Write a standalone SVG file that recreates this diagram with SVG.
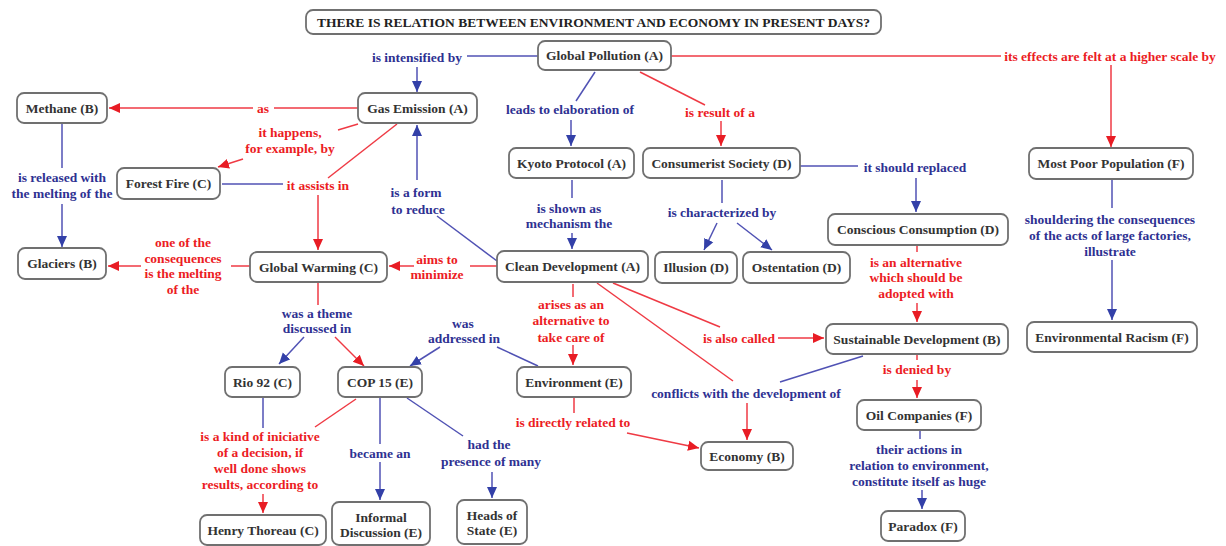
<svg xmlns="http://www.w3.org/2000/svg" width="1226" height="546" viewBox="0 0 1226 546">
<style>
text{font-family:"Liberation Serif","Times New Roman",serif;font-weight:bold;font-size:13.5px;text-anchor:middle}
.box{fill:#fff;stroke:#707070;stroke-width:1.8}
.nt{fill:#333}
.rt{fill:#ec1c24}
.bt{fill:#2e3192}
.rl{stroke:#ef3a44;stroke-width:1.5;fill:none}
.bl{stroke:#5052b4;stroke-width:1.5;fill:none}
.ra{marker-end:url(#ar)}
.ba{marker-end:url(#ab)}
</style>
<defs>
<marker id="ar" markerUnits="userSpaceOnUse" markerWidth="12" markerHeight="12" viewBox="0 0 12 12" refX="11" refY="6" orient="auto"><path d="M0,1 L11,6 L0,11 Z" fill="#e81c24"/></marker>
<marker id="ab" markerUnits="userSpaceOnUse" markerWidth="12" markerHeight="12" viewBox="0 0 12 12" refX="11" refY="6" orient="auto"><path d="M0,1 L11,6 L0,11 Z" fill="#3340a8"/></marker>
</defs>
<rect width="1226" height="546" fill="#fff"/>

<g id="connectors">
<!-- GP -> GE -->
<line class="bl" x1="538" y1="56" x2="467" y2="56"/>
<text class="bt" x="417" y="61.5">is intensified by</text>
<line class="bl ba" x1="417" y1="67" x2="417" y2="92"/>
<!-- GE -> Methane -->
<line class="rl" x1="358" y1="108" x2="274" y2="108"/>
<text class="rt" x="263" y="112.5">as</text>
<line class="rl ra" x1="253" y1="108" x2="109" y2="108"/>
<!-- GE -> Forest Fire -->
<line class="rl" x1="358" y1="124" x2="338" y2="130"/>
<text class="rt" x="290" y="136.5">it happens,</text>
<text class="rt" x="290" y="152.5">for example, by</text>
<line class="rl ra" x1="243" y1="159" x2="218" y2="167"/>
<!-- GE / Forest fire -> GW -->
<line class="rl" x1="397" y1="124" x2="328" y2="178"/>
<line class="bl" x1="222" y1="184" x2="283" y2="184"/>
<text class="rt" x="318" y="189.5">it assists in</text>
<line class="rl ra" x1="318" y1="195" x2="318" y2="250"/>
<!-- Methane -> Glaciers -->
<line class="bl" x1="62" y1="124" x2="62" y2="168"/>
<text class="bt" x="62" y="181.5">is released with</text>
<text class="bt" x="62" y="197.5">the melting of the</text>
<line class="bl ba" x1="62" y1="204" x2="62" y2="247"/>
<!-- GW -> Glaciers -->
<line class="rl" x1="250" y1="266" x2="231" y2="266"/>
<text class="rt" x="183" y="246.5">one of the</text>
<text class="rt" x="183" y="262.5">consequences</text>
<text class="rt" x="183" y="277.5">is the melting</text>
<text class="rt" x="183" y="293.5">of the</text>
<line class="rl ra" x1="141" y1="266" x2="108" y2="266"/>
<!-- CD -> GW -->
<line class="rl" x1="497" y1="266" x2="470" y2="266"/>
<text class="rt" x="437" y="263.5">aims to</text>
<text class="rt" x="437" y="278.5">minimize</text>
<line class="rl ra" x1="414" y1="266" x2="389" y2="266"/>
<!-- CD -> GE -->
<line class="bl" x1="497" y1="261" x2="437" y2="216"/>
<text class="bt" x="416" y="196.5">is a form</text>
<text class="bt" x="418" y="213.5">to reduce</text>
<line class="bl ba" x1="417" y1="180" x2="417" y2="125"/>
<!-- GP -> Kyoto -->
<line class="bl" x1="595" y1="72" x2="576" y2="101"/>
<text class="bt" x="570" y="113.5">leads to elaboration of</text>
<line class="bl ba" x1="571" y1="120" x2="571" y2="146"/>
<!-- GP -> CS -->
<line class="rl" x1="640" y1="72" x2="705" y2="105"/>
<text class="rt" x="720" y="116.5">is result of a</text>
<line class="rl ra" x1="721" y1="121" x2="721" y2="146"/>
<!-- GP -> MPP -->
<line class="rl" x1="671" y1="56" x2="1001" y2="56"/>
<text class="rt" x="1110" y="60.5">its effects are felt at a higher scale by</text>
<line class="rl ra" x1="1111" y1="65" x2="1111" y2="147"/>
<!-- Kyoto -> CD -->
<line class="bl" x1="572" y1="180" x2="572" y2="198"/>
<text class="bt" x="569" y="212.5">is shown as</text>
<text class="bt" x="569" y="227.5">mechanism the</text>
<line class="bl ba" x1="572" y1="233" x2="572" y2="249"/>
<!-- CS -> Illusion / Ostentation -->
<line class="bl" x1="722" y1="180" x2="722" y2="203"/>
<text class="bt" x="722" y="216.5">is characterized by</text>
<line class="bl ba" x1="717" y1="223" x2="704" y2="250"/>
<line class="bl ba" x1="737" y1="223" x2="772" y2="250"/>
<!-- CS -> Conscious -->
<line class="bl" x1="800" y1="166" x2="858" y2="166"/>
<text class="bt" x="915" y="171.5">it should replaced</text>
<line class="bl ba" x1="916" y1="178" x2="916" y2="212"/>
<!-- Conscious -> SD -->
<line class="rl" x1="917" y1="246" x2="917" y2="252"/>
<text class="rt" x="916" y="266.5">is an alternative</text>
<text class="rt" x="916" y="282">which should be</text>
<text class="rt" x="916" y="297.5">adopted with</text>
<line class="rl ra" x1="917" y1="303" x2="917" y2="322"/>
<!-- MPP -> ER -->
<line class="bl" x1="1112" y1="180" x2="1112" y2="208"/>
<text class="bt" x="1110" y="223.5">shouldering the consequences</text>
<text class="bt" x="1110" y="239.5">of the acts of large factories,</text>
<text class="bt" x="1110" y="255.5">illustrate</text>
<line class="bl ba" x1="1112" y1="260" x2="1112" y2="320"/>
<!-- CD -> SD -->
<line class="rl" x1="613" y1="283" x2="720" y2="327"/>
<text class="rt" x="739" y="342.5">is also called</text>
<line class="rl ra" x1="778" y1="338" x2="824" y2="338"/>
<!-- CD -> Environment -->
<line class="rl" x1="573" y1="284" x2="573" y2="297"/>
<text class="rt" x="571" y="308.5">arises as an</text>
<text class="rt" x="571" y="325">alternative to</text>
<text class="rt" x="571" y="341.5">take care of</text>
<line class="rl ra" x1="573" y1="345" x2="573" y2="365"/>
<!-- CD / SD -> Economy -->
<line class="rl" x1="597" y1="283" x2="733" y2="381"/>
<line class="bl" x1="863" y1="356" x2="780" y2="382"/>
<text class="bt" x="746" y="397.5">conflicts with the development of</text>
<line class="rl ra" x1="747" y1="403" x2="747" y2="440"/>
<!-- Environment -> Economy -->
<line class="rl" x1="574" y1="398" x2="574" y2="413"/>
<text class="rt" x="573" y="426.5">is directly related to</text>
<line class="rl ra" x1="627" y1="433" x2="699" y2="448"/>
<!-- Environment -> COP15 -->
<line class="bl" x1="538" y1="366" x2="497" y2="347"/>
<text class="bt" x="463" y="327.5">was</text>
<text class="bt" x="464" y="342.5">addressed in</text>
<line class="bl ba" x1="440" y1="347" x2="410" y2="366"/>
<!-- GW -> Rio / COP -->
<line class="rl" x1="318" y1="283" x2="318" y2="305"/>
<text class="bt" x="317" y="317.5">was a theme</text>
<text class="bt" x="317" y="332.5">discussed in</text>
<line class="bl ba" x1="304" y1="337" x2="279" y2="364"/>
<line class="rl ra" x1="335" y1="337" x2="364" y2="366"/>
<!-- Rio / COP -> Henry -->
<line class="bl" x1="263" y1="398" x2="263" y2="428"/>
<line class="rl" x1="356" y1="399" x2="315" y2="427"/>
<text class="rt" x="260" y="440.5">is a kind of iniciative</text>
<text class="rt" x="260" y="456.5">of a decision, if</text>
<text class="rt" x="260" y="472.5">well done shows</text>
<text class="rt" x="260" y="488.5">results, according to</text>
<line class="rl ra" x1="263" y1="494" x2="263" y2="513"/>
<!-- COP -> Informal -->
<line class="bl" x1="380" y1="398" x2="380" y2="444"/>
<text class="bt" x="380" y="457.5">became an</text>
<line class="bl ba" x1="380" y1="462" x2="380" y2="500"/>
<!-- COP -> Heads -->
<line class="bl" x1="407" y1="398" x2="463" y2="436"/>
<text class="bt" x="489" y="448.5">had the</text>
<text class="bt" x="491" y="465.5">presence of many</text>
<line class="bl ba" x1="492" y1="472" x2="492" y2="498"/>
<!-- SD -> Oil -->
<line class="rl" x1="917" y1="355" x2="917" y2="360"/>
<text class="rt" x="917" y="373.5">is denied by</text>
<line class="rl ra" x1="917" y1="380" x2="917" y2="398"/>
<!-- Oil -> Paradox -->
<line class="bl" x1="920" y1="431" x2="920" y2="439"/>
<text class="bt" x="919" y="453.5">their actions in</text>
<text class="bt" x="919" y="470">relation to environment,</text>
<text class="bt" x="919" y="485.5">constitute itself as huge</text>
<line class="bl ba" x1="922" y1="490" x2="922" y2="509"/>
</g>

<g id="title"><rect class="box" x="306" y="10" width="575" height="24" rx="7"/><text class="nt" x="593.5" y="26.5" style="fill:#222">THERE IS RELATION BETWEEN ENVIRONMENT AND ECONOMY IN PRESENT DAYS?</text></g>
<g id="global-pollution"><rect class="box" x="538" y="41" width="133" height="29" rx="7"/><text class="nt" x="604.5" y="60">Global Pollution (A)</text></g>
<g id="gas-emission"><rect class="box" x="358" y="93" width="119" height="30" rx="7"/><text class="nt" x="417.5" y="112.5">Gas Emission (A)</text></g>
<g id="methane"><rect class="box" x="17" y="93" width="90" height="30" rx="7"/><text class="nt" x="62" y="112.5">Methane (B)</text></g>
<g id="forest-fire"><rect class="box" x="117" y="168" width="103" height="31" rx="7"/><text class="nt" x="168.5" y="188">Forest Fire (C)</text></g>
<g id="glaciers"><rect class="box" x="18" y="248" width="88" height="31" rx="7"/><text class="nt" x="62" y="268">Glaciers (B)</text></g>
<g id="global-warming"><rect class="box" x="250" y="252" width="137" height="30" rx="7"/><text class="nt" x="318.5" y="271.5">Global Warming (C)</text></g>
<g id="kyoto"><rect class="box" x="509" y="148" width="125" height="30" rx="7"/><text class="nt" x="571.5" y="167.5">Kyoto Protocol (A)</text></g>
<g id="consumerist"><rect class="box" x="643" y="148" width="157" height="30" rx="7"/><text class="nt" x="721.5" y="167.5">Consumerist Society (D)</text></g>
<g id="clean-development"><rect class="box" x="497" y="251" width="151" height="31" rx="7"/><text class="nt" x="572.5" y="271">Clean Development (A)</text></g>
<g id="illusion"><rect class="box" x="655" y="252" width="82" height="31" rx="7"/><text class="nt" x="696" y="272">Illusion (D)</text></g>
<g id="ostentation"><rect class="box" x="743" y="252" width="107" height="31" rx="7"/><text class="nt" x="796.5" y="272">Ostentation (D)</text></g>
<g id="conscious-consumption"><rect class="box" x="828" y="214" width="180" height="31" rx="7"/><text class="nt" x="918" y="234">Conscious Consumption (D)</text></g>
<g id="most-poor"><rect class="box" x="1029" y="148" width="164" height="31" rx="7"/><text class="nt" x="1111" y="168">Most Poor Population (F)</text></g>
<g id="environmental-racism"><rect class="box" x="1027" y="322" width="170" height="30" rx="7"/><text class="nt" x="1112" y="341.5">Environmental Racism (F)</text></g>
<g id="sustainable-development"><rect class="box" x="826" y="324" width="182" height="30" rx="7"/><text class="nt" x="917" y="343.5">Sustainable Development (B)</text></g>
<g id="oil-companies"><rect class="box" x="857" y="400" width="124" height="30" rx="7"/><text class="nt" x="919" y="419.5">Oil Companies (F)</text></g>
<g id="paradox"><rect class="box" x="881" y="511" width="84" height="30" rx="7"/><text class="nt" x="923" y="530.5">Paradox (F)</text></g>
<g id="economy"><rect class="box" x="701" y="442" width="92" height="28" rx="7"/><text class="nt" x="747" y="460.5">Economy (B)</text></g>
<g id="environment"><rect class="box" x="517" y="367" width="114" height="30" rx="7"/><text class="nt" x="574" y="386.5">Environment (E)</text></g>
<g id="heads-of-state"><rect class="box" x="457" y="500" width="70" height="44" rx="7"/><text class="nt" x="492" y="519.5">Heads of</text><text class="nt" x="492" y="535">State (E)</text></g>
<g id="cop15"><rect class="box" x="338" y="367" width="84" height="30" rx="7"/><text class="nt" x="380" y="386.5">COP 15 (E)</text></g>
<g id="rio92"><rect class="box" x="225" y="367" width="75" height="30" rx="7"/><text class="nt" x="262.5" y="386.5">Rio 92 (C)</text></g>
<g id="henry-thoreau"><rect class="box" x="200" y="515" width="126" height="30" rx="7"/><text class="nt" x="263" y="534.5">Henry Thoreau (C)</text></g>
<g id="informal-discussion"><rect class="box" x="332" y="502" width="98" height="43" rx="7"/><text class="nt" x="381" y="521.5">Informal</text><text class="nt" x="381" y="536.5">Discussion (E)</text></g>
</svg>
